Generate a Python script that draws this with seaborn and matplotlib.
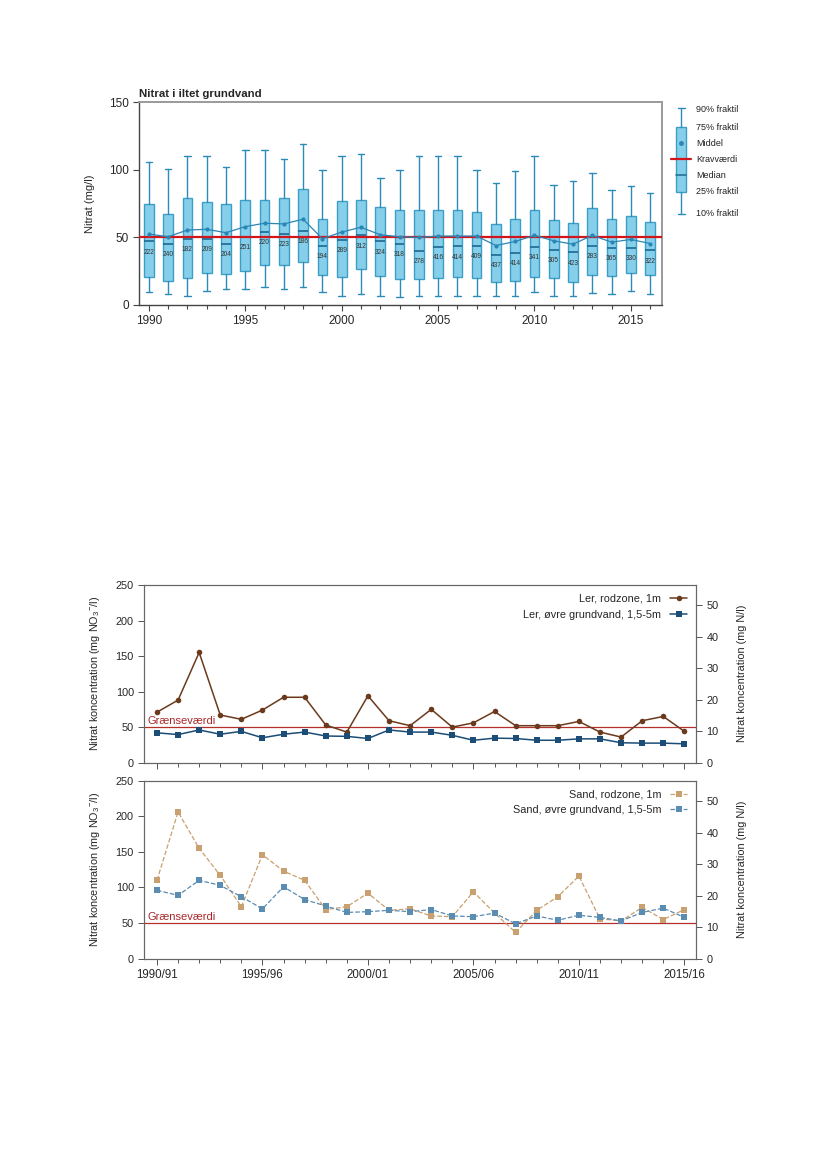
import numpy as np
import pandas as pd
import matplotlib
matplotlib.use("Agg")
import matplotlib.pyplot as plt
from matplotlib.ticker import MultipleLocator, FixedLocator
import seaborn as sns

sns.set_style("ticks")
plt.rcParams['font.family'] = ['Liberation Sans', 'DejaVu Sans']
plt.rcParams['mathtext.fontset'] = 'custom'
plt.rcParams['mathtext.rm'] = 'Liberation Sans'
plt.rcParams['mathtext.it'] = 'Liberation Sans'

# --- Nitrat i iltet grundvand (box chart)
years = list(range(1990, 2017))
p90 = [106, 101, 110, 110, 102, 115, 115, 108, 119, 100, 110, 112, 94, 100,
       110, 110, 110, 100, 90, 99, 110, 89, 92, 98, 85, 88, 83]
q75 = [75, 67, 79, 76, 75, 78, 77.5, 79.5, 85.5, 64, 77, 77.5, 72.5, 70,
       70, 70, 70, 69, 60, 64, 70, 63, 61, 71.5, 64, 65.5, 61.5]
median = [47, 45.5, 49, 49, 45.5, 50.5, 54, 52.5, 55, 44, 48, 51.5, 47, 45,
          40, 43, 43.5, 44, 37, 38.5, 43, 41, 39, 44, 42.5, 42.5, 40.5]
q25 = [21, 18, 20, 24, 23, 25, 29.5, 29.5, 32, 22, 21, 27, 21.5, 19,
       19, 20, 20.5, 20, 17, 18, 21, 20, 17, 22.5, 21.5, 23.5, 22.5]
p10 = [9.5, 8.5, 7, 10, 12, 12, 13, 12, 13, 9.5, 7, 8.5, 7, 6,
       6.5, 7, 7, 7, 6.5, 6.5, 9.5, 7, 6.5, 9, 8.5, 10, 8.5]
mean = [52.5, 50.5, 55.5, 56, 53.5, 58, 60.5, 60, 63.5, 49, 54, 57.5, 52, 50.5,
        50, 51, 51, 51, 44, 47, 51.5, 47.5, 45, 51.5, 46.5, 48.5, 45.5]
n_wells = [222, 240, 182, 209, 204, 251, 220, 223, 186, 194, 289, 312, 324, 318,
           278, 416, 414, 409, 437, 414, 341, 305, 423, 283, 365, 330, 322]
krav = 50

# --- Nitrat koncentration, ler og sand
seasons = [f"{y}/{(y + 1) % 100:02d}" for y in range(1990, 2016)]
ler_rod = [71, 88, 155, 67, 61, 74, 92, 92, 53, 43, 94, 59, 52, 75, 50, 56,
           72, 52, 52, 52, 58, 43, 36, 59, 65, 44]
ler_ovre = [42, 39.5, 46, 40, 44, 35, 40, 43, 37.5, 37, 34, 46, 43, 43, 38.5, 31.5,
            34.5, 34, 31.5, 31.5, 33.5, 33.5, 28, 27.5, 27.5, 26.5]
sand_rod = [110, 206, 155, 117, 73, 146, 123, 110, 69, 73, 92, 68, 70, 60, 59, 94,
            64, 37, 68, 87, 116, 56, 53, 72, 55, 69]
sand_ovre = [96, 89, 110, 103, 87, 70, 101, 83, 74, 65, 66, 68, 66, 69, 60, 59,
             64, 49, 60, 54, 61, 58, 53, 65, 71, 58]
graense = 50
no3_to_n = 14.0 / 62.0

box_face = '#86cfea'
box_edge = '#3d9fc8'
whisk_col = '#2b8cba'
med_col = '#1c6a93'
red = '#d0161b'

fig = plt.figure(figsize=(8.26, 11.69), dpi=100)

# ================= top chart =================
ax = fig.add_axes([0.1686, 0.7391, 0.6325, 0.1734])
stats = []
for i in range(len(years)):
    stats.append(dict(med=median[i], q1=q25[i], q3=q75[i],
                      whislo=p10[i], whishi=p90[i], fliers=[]))
ax.bxp(stats, positions=years, widths=0.5, capwidths=0.34, patch_artist=True,
       showfliers=False, manage_ticks=False,
       boxprops=dict(facecolor=box_face, edgecolor=box_edge, linewidth=1.0),
       whiskerprops=dict(color=whisk_col, linewidth=1.0),
       capprops=dict(color=whisk_col, linewidth=1.0),
       medianprops=dict(color=med_col, linewidth=1.2))
ax.axhline(krav, color=red, lw=1.6, zorder=3)
sns.lineplot(x=years, y=mean, ax=ax, color='#2a86b4', marker='o', markersize=3,
             markeredgewidth=0, linewidth=0.9, zorder=4)
for yr, md, n in zip(years, median, n_wells):
    ax.text(yr, md - 8, str(n), ha='center', va='center', fontsize=4.8,
            color='#333333', zorder=5)

ax.set_xlim(1989.5, 2016.6)
ax.set_ylim(0, 150)
ax.set_yticks([0, 50, 100, 150])
ax.xaxis.set_major_locator(FixedLocator([1990, 1995, 2000, 2005, 2010, 2015]))
ax.xaxis.set_minor_locator(MultipleLocator(1))
ax.tick_params(axis='both', which='major', labelsize=8.5, length=4, width=0.8,
               color='#444444')
ax.tick_params(axis='x', which='minor', length=3, width=0.8, color='#444444')
ax.set_ylabel("Nitrat (mg/l)", fontsize=8, labelpad=10)
ax.set_title("Nitrat i iltet grundvand", loc='left', fontsize=8.2,
             fontweight='bold', pad=4)
for s in ['left', 'bottom']:
    ax.spines[s].set_color('#444444')
    ax.spines[s].set_linewidth(1.0)
for s in ['top', 'right']:
    ax.spines[s].set_color('#9a9a9a')
    ax.spines[s].set_linewidth(1.4)

# legend key for box chart
lax = fig.add_axes([665 / 826, 1 - 222 / 1169, 115 / 826, 122 / 1169])
lax.set_xlim(0, 115)
lax.set_ylim(122, 0)
lax.axis('off')
cx = 16
lax.plot([cx, cx], [8.3, 27.3], color=whisk_col, lw=1.0)
lax.plot([cx, cx], [92.3, 114], color=whisk_col, lw=1.0)
lax.plot([cx - 3.5, cx + 3.5], [8.3, 8.3], color=whisk_col, lw=1.0)
lax.plot([cx - 3.5, cx + 3.5], [114, 114], color=whisk_col, lw=1.0)
lax.add_patch(plt.Rectangle((cx - 5, 27.3), 10, 65, facecolor=box_face,
                            edgecolor=box_edge, lw=1.0))
lax.plot([cx], [43.3], marker='o', color='#2a86b4', markersize=2.5)
lax.plot([cx - 5, cx + 5], [75, 75], color=med_col, lw=1.1)
lax.plot([6, 26], [59, 59], color=red, lw=1.6)
key_labels = ["90% fraktil", "75% fraktil", "Middel", "Kravværdi",
              "Median", "25% fraktil", "10% fraktil"]
key_y = [9, 27, 43, 59, 75, 92, 114]
for lab, yy in zip(key_labels, key_y):
    lax.text(31, yy, lab, fontsize=6.5, va='center', ha='left', color='#222222')


# ================= bottom panels =================
def style_panel(a, a2):
    a.set_xlim(-0.6, 25.55)
    a.set_ylim(0, 250)
    a.set_yticks(range(0, 251, 50))
    a2.set_ylim(0, 250 * no3_to_n)
    a2.set_yticks(range(0, 51, 10))
    a.xaxis.set_major_locator(FixedLocator(range(0, 26, 5)))
    a.xaxis.set_minor_locator(MultipleLocator(1))
    a.tick_params(axis='y', which='major', labelsize=7.8, length=4,
                  width=0.7, color='#555555')
    a.tick_params(axis='x', which='major', labelsize=8.3, length=4,
                  width=0.7, color='#555555')
    a.tick_params(axis='x', which='minor', length=3, width=0.7, color='#555555')
    a2.tick_params(axis='y', labelsize=7.8, length=4, width=0.7, color='#555555')
    for sp in a.spines.values():
        sp.set_color('#666666')
        sp.set_linewidth(0.8)
    for sp in a2.spines.values():
        sp.set_color('#666666')
        sp.set_linewidth(0.8)
    a.axhline(graense, color='#b3302c', lw=0.9, zorder=1)
    a.text(-0.45, graense + 2, "Grænseværdi", color='#a8282a', fontsize=8,
           ha='left', va='bottom')
    a.set_ylabel(r"Nitrat koncentration (mg NO$_3$$^{-}$/l)", fontsize=7.8,
                 labelpad=10)
    a2.set_ylabel("Nitrat koncentration (mg N/l)", fontsize=7.8, labelpad=13)


idx = np.arange(len(seasons))

ax1 = fig.add_axes([0.1747, 0.3476, 0.6679, 0.1520])
ax1b = ax1.twinx()
sns.lineplot(x=idx, y=ler_rod, ax=ax1, color='#6b3a1d', marker='o',
             markersize=4, markeredgewidth=0, linewidth=1.1,
             label="Ler, rodzone, 1m", zorder=3)
sns.lineplot(x=idx, y=ler_ovre, ax=ax1, color='#1b4d77', marker='s',
             markersize=4.3, markeredgewidth=0, linewidth=1.1,
             label="Ler, øvre grundvand, 1,5-5m", zorder=3)
style_panel(ax1, ax1b)
ax1.set_xticklabels([])
ax1.legend(loc='upper right', frameon=False, markerfirst=False, fontsize=7.8,
           handlelength=1.6, borderaxespad=0.4, labelspacing=0.55)

ax2 = fig.add_axes([0.1747, 0.1799, 0.6679, 0.1523])
ax2b = ax2.twinx()
sns.lineplot(x=idx, y=sand_rod, ax=ax2, color='#c9a06f', marker='s',
             markersize=4.5, markeredgewidth=0, linewidth=0.9, linestyle='--',
             label="Sand, rodzone, 1m", zorder=3)
sns.lineplot(x=idx, y=sand_ovre, ax=ax2, color='#5b8cb1', marker='s',
             markersize=4.5, markeredgewidth=0, linewidth=0.9, linestyle='--',
             label="Sand, øvre grundvand, 1,5-5m", zorder=3)
style_panel(ax2, ax2b)
ax2.set_xticklabels([seasons[i] for i in range(0, 26, 5)])
ax2.legend(loc='upper right', frameon=False, markerfirst=False, fontsize=7.8,
           handlelength=1.6, borderaxespad=0.4, labelspacing=0.55)

fig.savefig("out.png", dpi=100)
